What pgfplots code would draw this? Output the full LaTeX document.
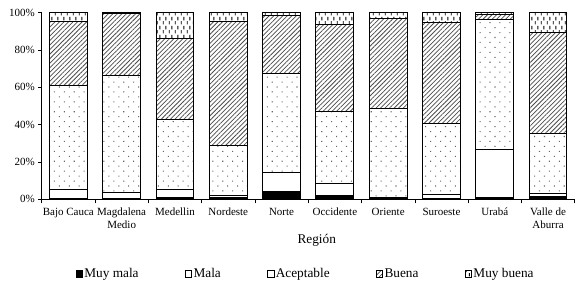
\documentclass[border=0pt]{standalone}
\usepackage{fontspec}
\setmainfont{Liberation Serif}
\usepackage{pgfplots}
\usepackage{pgfplotstable}
\pgfplotsset{compat=1.18}
\usetikzlibrary{patterns.meta}

\tikzdeclarepattern{
  name=vdash, type=uncolored,
  bottom left={(0pt,0pt)}, top right={(6pt,9pt)}, tile size={(6pt,9pt)},
  code={\draw[line width=1pt] (1.5pt,0.6pt) -- (1.5pt,4.2pt);
        \draw[line width=1pt] (4.5pt,5.1pt) -- (4.5pt,8.7pt);}
}

\pgfplotstableread{
x mm ma ac bu mb
0 0.5 4.5 56.1 34.4 4.5
1 0.5 3.1 62.8 33.2 0.4
2 0.8 4.2 38.0 43.2 13.8
3 1.0 1.1 26.5 66.9 4.5
4 4.1 10.2 53.2 30.9 1.6
5 1.9 6.5 38.4 46.95 6.25
6 0.5 0.3 47.95 48.35 2.9
7 0.3 2.5 37.6 54.1 5.5
8 0.9 25.9 69.8 2.7 0.7
9 1.5 1.5 32.2 54.3 10.5
}\datatable

\begin{document}
\begin{tikzpicture}
\begin{axis}[
  at={(0pt,0pt)}, anchor=south west,
  scale only axis, width=533pt, height=186.6pt,
  ybar stacked, bar width=0.71,
  xmin=-0.5, xmax=9.5, ymin=0, ymax=100,
  clip=false,
  axis x line*=bottom, axis y line*=left,
  axis line style={-, line width=0.6pt},
  tick align=outside,
  major tick length=3.5pt, minor tick length=4pt,
  xtick={0,...,9},
  minor xtick={-0.5,0.5,...,9.5},
  major x tick style={draw=none},
  minor x tick style={line width=0.6pt, black},
  y tick style={line width=0.6pt, black},
  xticklabels={Bajo Cauca,{Magdalena\\Medio},Medellin,Nordeste,Norte,Occidente,Oriente,Suroeste,Urabá,{Valle de\\Aburra}},
  x tick label style={align=center, font=\fontsize{11}{12.4}\selectfont, yshift=-2pt},
  ytick={0,20,...,100},
  yticklabel={\pgfmathprintnumber{\tick}\%},
  y tick label style={font=\fontsize{11}{13}\selectfont},
  /pgf/number format/assume math mode=true,
  xlabel={Región},
  xlabel style={at={(axis description cs:0.516,-0.222)}, anchor=center, font=\fontsize{13.3}{16}\selectfont},
  legend columns=5,
  legend style={at={(axis description cs:0.495,-0.4)}, anchor=center, draw=none,
    font=\fontsize{13.3}{16}\selectfont,
    /tikz/every even column/.append style={column sep=45pt},
    nodes={inner sep=1.5pt}},
  legend image code/.code={\draw[#1, line width=0.6pt] (0pt,-3.15pt) rectangle (6.3pt,3.15pt);},
  every axis plot/.append style={draw=black, line width=1pt},
]
\addplot[fill=black] table[x=x,y=mm] {\datatable};
\addplot[fill=white] table[x=x,y=ma] {\datatable};
\addplot[fill=white, postaction={pattern={Dots[radius=0.75pt,distance=7pt,angle=45]}, pattern color=black!60}] table[x=x,y=ac] {\datatable};
\addplot[fill=white, postaction={pattern={Lines[angle=45,distance=3.2pt,line width=0.75pt]}, pattern color=black!70}] table[x=x,y=bu] {\datatable};
\addplot[fill=white, postaction={pattern=vdash, pattern color=black}] table[x=x,y=mb] {\datatable};
\legend{Muy mala,Mala,Aceptable,Buena,Muy buena}
\end{axis}
\pgfresetboundingbox
\useasboundingbox (-41.7pt,-85.7pt) rectangle (546.3pt,199.3pt);
\end{tikzpicture}
\end{document}
